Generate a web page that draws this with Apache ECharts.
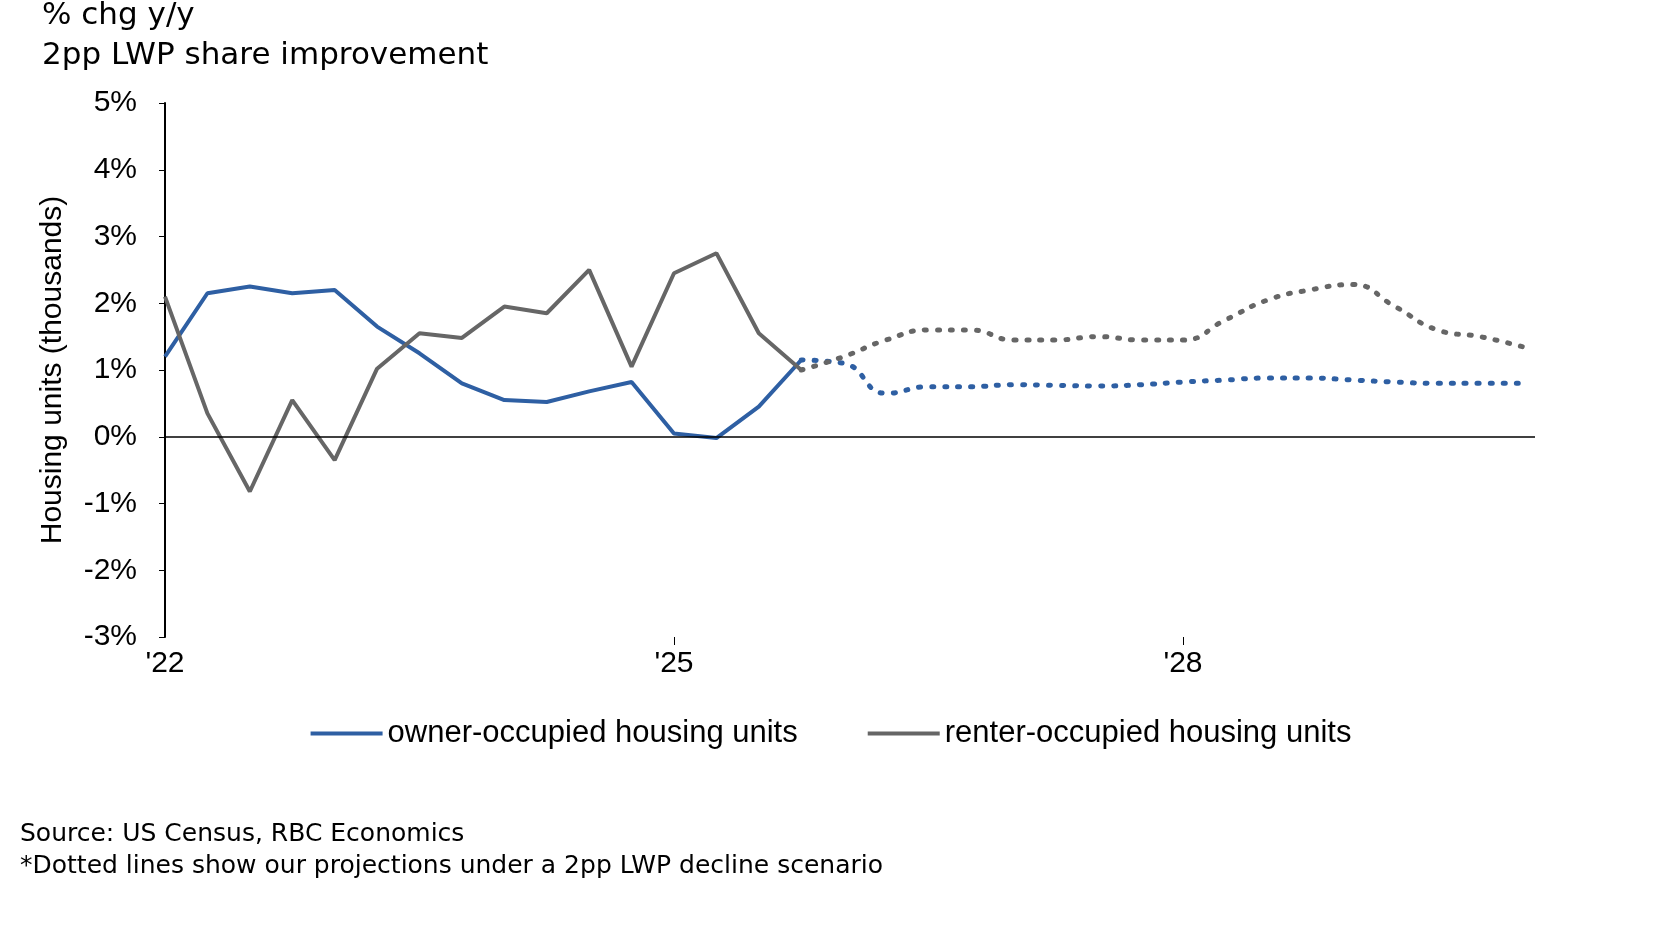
<!DOCTYPE html><html><head><meta charset="utf-8"><script src="https://cdn.jsdelivr.net/npm/echarts@6/dist/echarts.min.js"></script>
<style>html,body{margin:0;background:#fff}#c{width:1662px;height:938px}</style></head><body><div id="c"></div><script>
const ownerActual=[1.2,2.15,2.25,2.15,2.2,1.65,1.25,0.8,0.55,0.52,0.68,0.82,0.05,-0.02,0.45,1.15];
const ownerProj=[1.15,1.1,0.65,0.75,0.75,0.78,0.77,0.76,0.78,0.82,0.85,0.88,0.88,0.85,0.82,0.8,0.8,0.8];
const renterActual=[2.1,0.35,-0.82,0.55,-0.35,1.02,1.55,1.48,1.95,1.85,2.5,1.05,2.45,2.75,1.55,1.0];
const renterProj=[1.0,1.2,1.45,1.6,1.6,1.45,1.45,1.5,1.45,1.45,1.75,2.05,2.2,2.28,1.95,1.6,1.5,1.35];
const yTicks=[-3,-2,-1,0,1,2,3,4,5];
const xLabels={0:"'22",12:"'25",24:"'28"};
const toPts=(a,start)=>a.map((v,i)=>[start+i,v]);
const chart=echarts.init(document.getElementById('c'));
const F='Arial, Liberation Sans, sans-serif';
chart.setOption({
 animation:false,
 graphic:[
  {type:'text',left:42,top:0,style:{text:'% chg y/y',font:'31px "DejaVu Sans"',fill:'#000'}},
  {type:'text',left:42,top:40,style:{text:'2pp LWP share improvement',font:'31px "DejaVu Sans"',fill:'#000'}},
  {type:'text',left:20,top:822,style:{text:'Source: US Census, RBC Economics',font:'25px "DejaVu Sans"',fill:'#000'}},
  {type:'text',left:20,top:854,style:{text:'*Dotted lines show our projections under a 2pp LWP decline scenario',font:'25px "DejaVu Sans"',fill:'#000'}}
 ],
 grid:{left:165,right:127,top:103,bottom:301},
 legend:{bottom:184,left:'center',itemWidth:72,itemHeight:4,itemGap:70,icon:'rect',
  data:['owner-occupied housing units','renter-occupied housing units'],
  textStyle:{fontFamily:F,fontSize:31,color:'#000'}},
 xAxis:{type:'value',min:0,max:32.3,interval:12,
  axisLine:{onZero:false,show:false},axisTick:{show:true,length:8,customValues:[12,24],lineStyle:{color:'#000'}},splitLine:{show:false},
  axisLabel:{customValues:[0,12,24],formatter:v=>xLabels[v]||'',fontFamily:F,fontSize:30,color:'#000',margin:12}},
 yAxis:{type:'value',min:-3,max:5,interval:1,
  axisLine:{show:true,lineStyle:{color:'#000',width:2}},axisTick:{show:true,length:6,lineStyle:{color:'#000'}},splitLine:{show:false},
  name:'Housing units (thousands)',nameLocation:'middle',nameGap:97,nameTextStyle:{fontFamily:F,fontSize:30,color:'#000'},
  axisLabel:{formatter:v=>v+'%',fontFamily:F,fontSize:30,color:'#000',margin:28}},
 series:[
  {name:'owner-occupied housing units',type:'line',data:toPts(ownerActual,0),symbol:'none',lineStyle:{color:'#2E5FA3',width:4},itemStyle:{color:'#2E5FA3'},
   markLine:{silent:true,symbol:'none',label:{show:false},lineStyle:{color:'#000',width:1.5,type:'solid'},data:[{yAxis:0}]}},
  {name:'renter-occupied housing units',type:'line',data:toPts(renterActual,0),symbol:'none',lineStyle:{color:'#666',width:4},itemStyle:{color:'#666'}},
  {name:'ownerProj',type:'line',data:toPts(ownerProj,15),symbol:'none',smooth:true,lineStyle:{color:'#2E5FA3',width:5,type:[2,11],cap:'round'}},
  {name:'renterProj',type:'line',data:toPts(renterProj,15),symbol:'none',smooth:true,lineStyle:{color:'#666',width:5,type:[2,11],cap:'round'}}
 ]
});
</script></body></html>
